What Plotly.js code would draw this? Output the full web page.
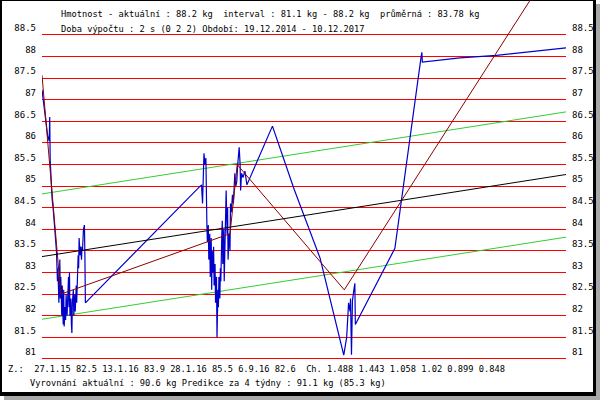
<!DOCTYPE html>
<html>
<head>
<meta charset="utf-8">
<script src="https://cdn.plot.ly/plotly-3.0.1.min.js"></script>
<style>
  body { margin: 0; }
  #weight-plot { width: 600px; height: 400px; }
  #weight-plot .gridlayer path { shape-rendering: crispEdges; }
</style>
</head>
<body>
<div id="weight-plot"></div>
<script>
/* Weight chart (Hmotnost) */
var blueDates = [
  '2014-12-19','2014-12-21','2014-12-23','2014-12-25','2014-12-27','2014-12-29','2014-12-31','2015-01-03','2015-01-04','2015-01-05',
  '2015-01-06','2015-01-07','2015-01-09','2015-01-11','2015-01-13','2015-01-15','2015-01-17','2015-01-18','2015-01-20','2015-01-21',
  '2015-01-23','2015-01-24','2015-01-25','2015-01-26','2015-01-27','2015-01-29','2015-01-30','2015-02-01','2015-02-02','2015-02-03',
  '2015-02-05','2015-02-06','2015-02-07','2015-02-09','2015-02-10','2015-02-12','2015-02-13','2015-02-14','2015-02-15','2015-02-17',
  '2015-02-18','2015-02-19','2015-02-20','2015-02-22','2015-02-23','2015-02-25','2015-02-26','2015-02-28','2015-03-01','2015-03-02',
  '2015-03-04','2015-03-05','2015-03-06','2015-03-08','2015-03-09','2015-03-11','2015-03-12','2015-03-13','2015-03-15','2015-03-17',
  '2015-03-18','2015-03-19',
  '2015-11-12','2015-11-15','2015-11-17','2015-11-20','2015-11-22','2015-11-24','2015-11-26','2015-11-27','2015-11-29','2015-11-30',
  '2015-12-02','2015-12-03','2015-12-05','2015-12-06','2015-12-07','2015-12-09','2015-12-10','2015-12-11','2015-12-13','2015-12-14',
  '2015-12-16','2015-12-17','2015-12-19','2015-12-20','2015-12-21','2015-12-23','2015-12-24','2015-12-25','2015-12-27','2015-12-28',
  '2015-12-29','2015-12-31','2016-01-01','2016-01-03','2016-01-04','2016-01-05','2016-01-07','2016-01-08','2016-01-09','2016-01-11',
  '2016-01-13','2016-01-14','2016-01-16','2016-01-18','2016-01-20','2016-01-21','2016-01-23','2016-01-25','2016-01-27','2016-01-29',
  '2016-01-30','2016-02-01','2016-02-03','2016-02-04','2016-02-06','2016-02-09','2016-02-13','2016-02-17',
  '2016-04-10','2016-05-25','2016-07-18','2016-09-05','2016-09-11','2016-09-15','2016-09-18','2016-09-19','2016-09-21','2016-09-23',
  '2016-09-26','2016-09-28','2016-09-29','2016-12-20','2017-02-12','2017-02-14','2017-02-15','2017-05-04','2017-07-19','2017-09-26',
  '2017-12-10'
];
var blueKg = [
  87.23, 87.05, 86.9, 86.75, 86.6, 86.35, 86.15, 86.05, 86.6, 85.6,
  85.3, 85.0, 84.7, 84.5, 84.2, 84.0, 83.7, 83.5, 82.8, 83.1,
  82.3, 83.0, 83.3, 82.4, 82.9, 82.0, 82.7, 81.8, 82.6, 81.75,
  82.2, 81.9, 82.5, 82.0, 82.6, 82.9, 82.2, 83.0, 82.0, 82.4,
  81.8, 81.6, 82.3, 82.6, 82.0, 82.5, 82.1, 82.7, 82.3, 82.9,
  83.4, 83.1, 83.8, 83.4, 83.6, 83.3, 83.6, 83.5, 84.0, 84.1,
  83.4, 82.3,
  85.0, 85.02, 84.6, 85.76, 85.5, 85.65, 84.15, 83.7, 84.1, 83.3,
  83.9, 82.9, 83.8, 82.6, 83.5, 83.0, 83.6, 82.7, 83.2, 82.3,
  82.9, 81.5, 82.6, 82.2, 82.9, 82.4, 83.1, 82.8, 83.9, 84.2,
  83.2, 84.0, 82.8, 83.8, 84.3, 84.9, 83.9, 84.5, 83.3, 83.9,
  83.5, 84.6, 84.4, 84.8, 84.6, 85.0, 85.3, 85.0, 85.1, 85.5,
  85.6, 85.9, 85.5, 84.9, 85.3, 85.2, 85.35, 85.03,
  86.39, 84.93, 83.33, 81.09, 81.5, 82.3, 82.1, 82.4, 81.1, 82.35,
  82.6, 82.75, 81.8, 83.56, 87.96, 88.1, 87.87, 87.97, 88.03, 88.11,
  88.2
];
// piecewise fit (Z.: breakpoints)
var fitDates = ['2014-12-19', '2015-01-27', '2016-01-13', '2016-01-28', '2016-09-06', '2017-12-10'];
var fitKg = [87.57, 82.5, 83.9, 85.5, 82.6, 90.6];
// linear trend and its band
var trendDates = ['2014-12-19', '2017-12-10'];
var trendKg = [83.37, 85.27];
var bandHighKg = [84.82, 86.72];
var bandLowKg = [81.92, 83.82];
var yTicks = [81, 81.5, 82, 82.5, 83, 83.5, 84, 84.5, 85, 85.5, 86, 86.5, 87, 87.5, 88, 88.5];

var font = 'DejaVu Sans Mono, monospace';

var trace0 = {x: trendDates, y: bandHighKg, mode: 'lines', type: 'scatter', line: {color: '#33cc33', width: 1}};
var trace1 = {x: trendDates, y: bandLowKg, mode: 'lines', type: 'scatter', line: {color: '#33cc33', width: 1}};
var trace2 = {x: trendDates, y: trendKg, mode: 'lines', type: 'scatter', yaxis: 'y2', line: {color: '#000000', width: 1}};
var trace3 = {x: blueDates, y: blueKg, mode: 'lines', type: 'scatter', line: {color: '#0000cc', width: 1.2}};
var trace4 = {x: fitDates, y: fitKg, mode: 'lines', type: 'scatter', line: {color: '#8b0000', width: 1}};

function px(v) { return v / 600; }
function py(v) { return 1 - v / 400; }

function textLine(x, y, s) {
    return {xref: 'paper', yref: 'paper', x: px(x), y: py(y), xanchor: 'left', yanchor: 'middle',
            showarrow: false, text: s, font: {family: font, size: 8.7, color: '#000'}};
}

var yRange = [80.05, 89.31];
var layout0 = {
    width: 600, height: 400,
    margin: {t: 0, r: 0, l: 0, b: 0},
    paper_bgcolor: '#ffffff',
    plot_bgcolor: 'rgba(0,0,0,0)',
    showlegend: false,
    xaxis: {
        type: 'date', range: ['2014-12-19', '2017-12-10'],
        domain: [px(42), px(566)], visible: false
    },
    yaxis: {
        range: yRange, domain: [0, 1],
        tickvals: yTicks, showgrid: true, gridcolor: '#ff0000', gridwidth: 1,
        zeroline: false, showline: false, ticks: '',
        ticklabelshift: -7, ticklabelstandoff: 5,
        tickfont: {family: font, size: 9, color: '#000'}
    },
    yaxis2: {
        range: yRange, overlaying: 'y', side: 'right', anchor: 'x',
        tickvals: yTicks, showgrid: false, zeroline: false, showline: false, ticks: '',
        ticklabelshift: -7, ticklabelstandoff: 5,
        tickfont: {family: font, size: 9, color: '#000'}
    },
    shapes: [
        // drop shadow, black frame, white face
        {type: 'rect', xref: 'paper', yref: 'paper', layer: 'below', x0: px(4), x1: 1, y0: 0, y1: py(4), fillcolor: '#a8a8a8', line: {width: 0}},
        {type: 'rect', xref: 'paper', yref: 'paper', layer: 'below', x0: 0, x1: px(596), y0: py(396), y1: 1, fillcolor: '#000000', line: {width: 0}},
        {type: 'rect', xref: 'paper', yref: 'paper', layer: 'below', x0: px(2), x1: px(593), y0: py(392), y1: py(1), fillcolor: '#ffffff', line: {width: 0}}
    ],
    annotations: [
        textLine(59, 14, 'Hmotnost - aktuální : 88.2 kg  interval : 81.1 kg - 88.2 kg  průměrná : 83.78 kg'),
        textLine(59, 29, 'Doba výpočtu : 2 s (0 2 2) Období: 19.12.2014 - 10.12.2017'),
        textLine(6, 369, 'Z.:  27.1.15 82.5 13.1.16 83.9 28.1.16 85.5 6.9.16 82.6  Ch. 1.488 1.443 1.058 1.02 0.899 0.848'),
        textLine(28, 383, 'Vyrovnání aktuální : 90.6 kg Predikce za 4 týdny : 91.1 kg (85.3 kg)')
    ]
};

Plotly.newPlot('weight-plot', [trace0, trace1, trace2, trace3, trace4], layout0, {displayModeBar: false, staticPlot: true});
</script>
</body>
</html>
